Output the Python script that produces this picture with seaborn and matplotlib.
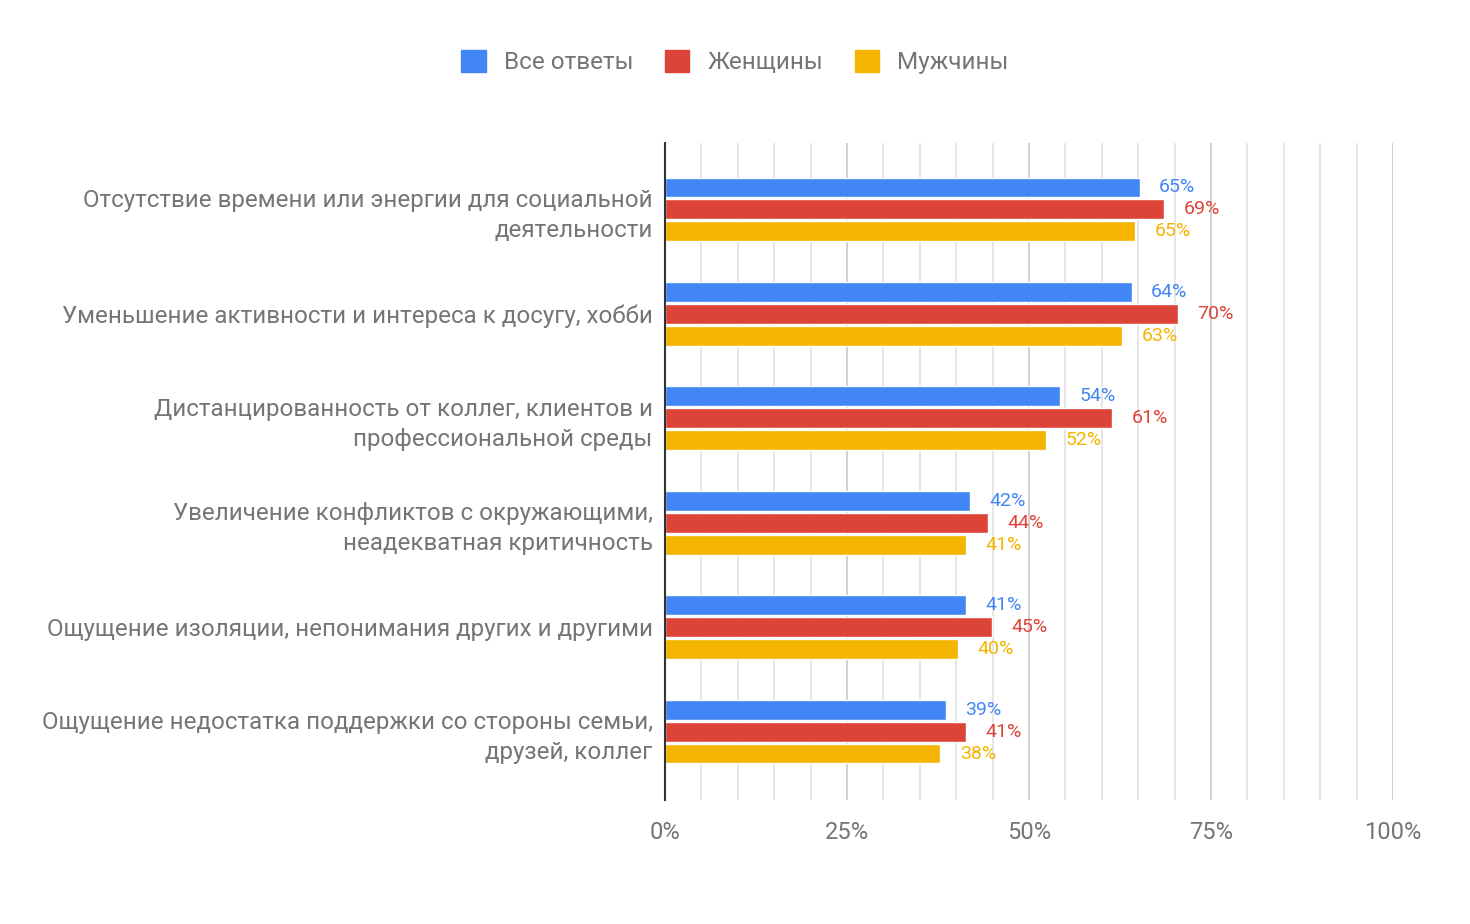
import numpy as np
import pandas as pd
import matplotlib
matplotlib.use("Agg")
import matplotlib.pyplot as plt
import seaborn as sns
from matplotlib.patches import Patch
from matplotlib.ticker import MultipleLocator, PercentFormatter

# Data
categories = [
    "Отсутствие времени или энергии для социальной\nдеятельности",
    "Уменьшение активности и интереса к досугу, хобби",
    "Дистанцированность от коллег, клиентов и\nпрофессиональной среды",
    "Увеличение конфликтов с окружающими,\nнеадекватная критичность",
    "Ощущение изоляции, непонимания других и другими",
    "Ощущение недостатка поддержки со стороны семьи,\nдрузей, коллег",
]
series = ["Все ответы", "Женщины", "Мужчины"]
all_answers = [65.2, 64.1, 54.3, 41.9, 41.3, 38.6]
women = [68.6, 70.4, 61.4, 44.4, 44.9, 41.3]
men = [64.6, 62.8, 52.3, 41.3, 40.2, 37.8]

colors = ["#4285F4", "#DB4437", "#F4B400"]
text_gray = "#757575"

df = pd.DataFrame({
    "category": categories * 3,
    "group": np.repeat(series, len(categories)),
    "value": all_answers + women + men,
})

sns.set_theme(style="white")
plt.rcParams["font.family"] = ["Roboto", "DejaVu Sans"]

fig = plt.figure(figsize=(14.7, 9.24), dpi=100)
ax = fig.add_axes([0.4524, 0.1342, 0.4952, 0.711])

sns.barplot(data=df, x="value", y="category", hue="group", hue_order=series,
            palette=colors, orient="h", width=0.63, gap=0.1, saturation=1,
            legend=False, ax=ax)

# value labels
for cont, c in zip(ax.containers, colors):
    ax.bar_label(cont, labels=[f"{b.get_width():.0f}%" for b in cont],
                 padding=14, color=c, fontsize=14)

ax.set_xlim(0, 100)
ax.set_ylim(5.654, -0.635)
ax.xaxis.set_major_locator(MultipleLocator(25))
ax.xaxis.set_minor_locator(MultipleLocator(5))
ax.xaxis.set_major_formatter(PercentFormatter(decimals=0))
ax.grid(axis="x", which="major", color="#cccccc", lw=1.3)
ax.grid(axis="x", which="minor", color="#e4e4e4", lw=1.3)
ax.set_axisbelow(True)

ax.tick_params(axis="x", which="both", length=0, pad=15, labelsize=17, labelcolor=text_gray)
ax.tick_params(axis="y", length=0, pad=9, labelsize=17.4, labelcolor=text_gray)
for lab in ax.get_yticklabels():
    lab.set_horizontalalignment("right")
    lab.set_linespacing(1.38)

for s in ["top", "right", "bottom"]:
    ax.spines[s].set_visible(False)
ax.spines["left"].set_color("#333333")
ax.spines["left"].set_linewidth(1.5)
ax.set_xlabel("")
ax.set_ylabel("")

handles = [Patch(facecolor=c, edgecolor=c, label=s) for s, c in zip(series, colors)]
fig.legend(handles=handles, loc="center", bbox_to_anchor=(0.5, 0.933), ncol=3,
           frameon=False, fontsize=17.5, labelcolor=text_gray, handlelength=1.0,
           handleheight=1.0, handletextpad=0.75, columnspacing=1.3)

fig.savefig("out.png", dpi=100, facecolor="white")
